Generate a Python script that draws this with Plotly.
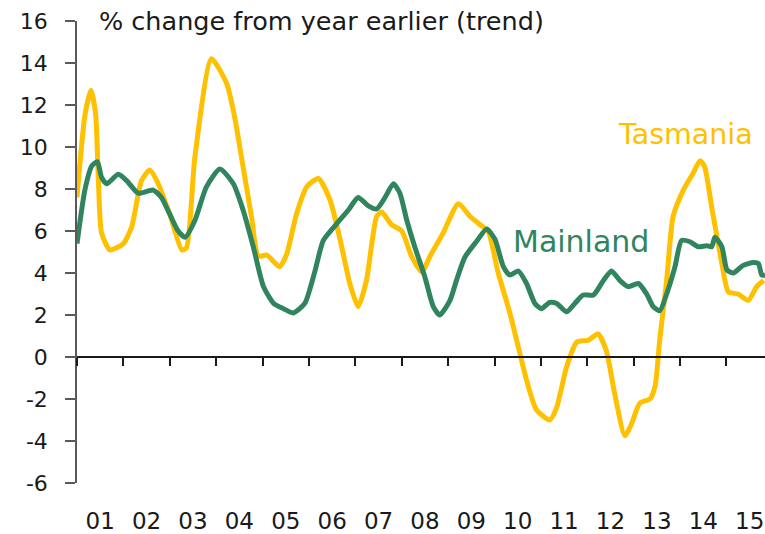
import plotly.graph_objects as go

# ---- data (decimal year, % change from year earlier) ----
tas_t = [2001.00, 2001.17, 2001.30, 2001.40, 2001.46, 2001.53, 2001.71, 2002.00, 2002.18, 2002.39,
         2002.57, 2002.75, 2003.00, 2003.26, 2003.36, 2003.54, 2003.90, 2004.23, 2004.40, 2004.58,
         2004.76, 2004.91, 2005.09, 2005.37, 2005.52, 2005.73, 2005.95, 2006.20, 2006.45, 2006.67,
         2006.88, 2007.06, 2007.24, 2007.46, 2007.57, 2007.78, 2008.00, 2008.21, 2008.43, 2008.61,
         2008.89, 2009.22, 2009.47, 2009.69, 2009.86, 2010.08, 2010.33, 2010.51, 2010.69, 2010.90,
         2011.19, 2011.34, 2011.55, 2011.77, 2012.02, 2012.23, 2012.41, 2012.59, 2012.81, 2012.95,
         2013.13, 2013.35, 2013.46, 2013.56, 2013.71, 2013.85, 2014.07, 2014.28, 2014.43, 2014.53,
         2014.68, 2014.78, 2014.90, 2015.04, 2015.25, 2015.47, 2015.65, 2015.80]
tas_v = [7.6, 11.5, 12.7, 11.6, 8.5, 5.9, 5.1, 5.4, 6.2, 8.4,
         8.9, 8.25, 6.8, 5.1, 5.2, 9.5, 14.2, 13.0, 11.4, 9.05,
         6.7, 4.8, 4.85, 4.3, 4.9, 6.8, 8.1, 8.5, 7.5, 5.6,
         3.5, 2.4, 3.65, 6.7, 6.9, 6.3, 6.0, 4.8, 4.05, 4.8,
         5.9, 7.3, 6.7, 6.3, 6.0, 4.0, 2.1, 0.5, -1.1, -2.5,
         -3.0, -2.4, -0.5, 0.7, 0.8, 1.1, 0.3, -1.75, -3.75, -3.2,
         -2.2, -2.0, -1.4, 0.8, 3.65, 6.7, 7.95, 8.75, 9.35, 9.05,
         7.15, 5.9, 4.45, 3.1, 3.0, 2.7, 3.35, 3.65]

main_t = [2001.00, 2001.17, 2001.32, 2001.44, 2001.53, 2001.64, 2001.89, 2002.07, 2002.32, 2002.64,
          2002.82, 2003.00, 2003.18, 2003.33, 2003.54, 2003.79, 2004.08, 2004.37, 2004.58, 2004.80,
          2005.02, 2005.24, 2005.45, 2005.66, 2005.91, 2006.13, 2006.31, 2006.60, 2006.85, 2007.06,
          2007.28, 2007.46, 2007.64, 2007.82, 2007.96, 2008.11, 2008.28, 2008.50, 2008.68, 2008.82,
          2009.04, 2009.18, 2009.36, 2009.61, 2009.83, 2010.01, 2010.19, 2010.33, 2010.51, 2010.69,
          2010.87, 2011.01, 2011.19, 2011.34, 2011.55, 2011.73, 2011.91, 2012.13, 2012.35, 2012.52,
          2012.70, 2012.88, 2013.10, 2013.28, 2013.42, 2013.56, 2013.71, 2013.89, 2014.03, 2014.20,
          2014.39, 2014.57, 2014.68, 2014.75, 2014.90, 2015.01, 2015.15, 2015.35, 2015.58, 2015.69,
          2015.76, 2015.83]
main_v = [5.4, 7.95, 9.1, 9.3, 8.55, 8.25, 8.7, 8.4, 7.8, 7.95,
          7.6, 6.8, 6.0, 5.7, 6.5, 8.1, 8.95, 8.25, 7.0, 5.25,
          3.35, 2.55, 2.3, 2.1, 2.55, 4.1, 5.55, 6.35, 7.0, 7.6,
          7.2, 7.05, 7.6, 8.25, 7.8, 6.5, 5.25, 3.8, 2.4, 2.0,
          2.7, 3.65, 4.75, 5.5, 6.1, 5.6, 4.3, 3.9, 4.1, 3.5,
          2.55, 2.3, 2.6, 2.55, 2.15, 2.55, 2.95, 2.95, 3.65, 4.1,
          3.65, 3.35, 3.5, 3.0, 2.4, 2.2, 3.0, 4.3, 5.55, 5.5,
          5.25, 5.3, 5.25, 5.7, 5.25, 4.15, 4.0, 4.35, 4.5, 4.45,
          3.9, 3.9]

year_ticks = list(range(2001, 2016))
year_labels = ["01", "02", "03", "04", "05", "06", "07", "08", "09", "10",
               "11", "12", "13", "14", "15"]
y_ticks = list(range(-6, 17, 2))
y_labels = [str(v) for v in y_ticks]

YELLOW = "#FFC000"
GREEN = "#31855E"
FONT = "DejaVu Sans"
X0, X1 = 2001.0, 2015.83
Y0, Y1 = -6, 16

fig = go.Figure()
fig.add_trace(go.Scatter(x=tas_t, y=tas_v, mode="lines", name="Tasmania",
                         line=dict(color=YELLOW, width=5, shape="spline", smoothing=0.6),
                         hoverinfo="skip"))
fig.add_trace(go.Scatter(x=main_t, y=main_v, mode="lines", name="Mainland",
                         line=dict(color=GREEN, width=5, shape="spline", smoothing=0.6),
                         hoverinfo="skip"))
# helper trace so the zero-crossing axis is drawn
fig.add_trace(go.Scatter(x=year_ticks, y=[None] * len(year_ticks), xaxis="x2",
                         mode="lines", showlegend=False, hoverinfo="skip"))

fig.update_layout(
    template="none",
    width=765, height=534,
    margin=dict(l=77, r=0, t=21, b=51, autoexpand=False),
    paper_bgcolor="white", plot_bgcolor="white",
    showlegend=False,
    font=dict(family=FONT, size=21, color="#1a1a1a"),
    xaxis=dict(range=[X0, X1], tickvals=[y + 0.5 for y in year_ticks], ticktext=year_labels,
               ticks="", showline=False, showgrid=False, zeroline=False, automargin=False,
               ticklabelstandoff=22, tickfont=dict(size=23)),
    xaxis2=dict(range=[X0, X1], overlaying="x", anchor="free", position=(0 - Y0) / (Y1 - Y0),
                side="bottom", showline=True, linecolor="#1a1a1a", linewidth=1.5,
                ticks="outside", ticklen=8, tickwidth=1.5, tickcolor="#1a1a1a", automargin=False,
                tickvals=year_ticks, showticklabels=False, showgrid=False, zeroline=False),
    yaxis=dict(range=[Y0, Y1], tickvals=y_ticks, ticktext=y_labels, ticks="outside", ticklen=10,
               tickwidth=1.5, tickcolor="#595959", showline=True, linecolor="#595959",
               linewidth=1.5, showgrid=False, zeroline=False, automargin=False,
               ticklabelstandoff=13, tickfont=dict(size=22)),
)

fig.add_annotation(x=0.029, y=1.0, xref="paper", yref="paper", xanchor="left", yanchor="middle",
                   text="% change from year earlier (trend)", showarrow=False,
                   font=dict(family=FONT, size=25.5, color="#1a1a1a"))
fig.add_annotation(x=2012.62, y=10.6, xanchor="left", yanchor="middle", text="Tasmania",
                   showarrow=False, font=dict(family=FONT, size=28.5, color=YELLOW))
fig.add_annotation(x=2010.36, y=5.5, xanchor="left", yanchor="middle", text="Mainland",
                   showarrow=False, font=dict(family=FONT, size=30, color=GREEN))

fig.write_html("out.html", config={"displayModeBar": False},
               post_script="document.body.style.margin='0';")
